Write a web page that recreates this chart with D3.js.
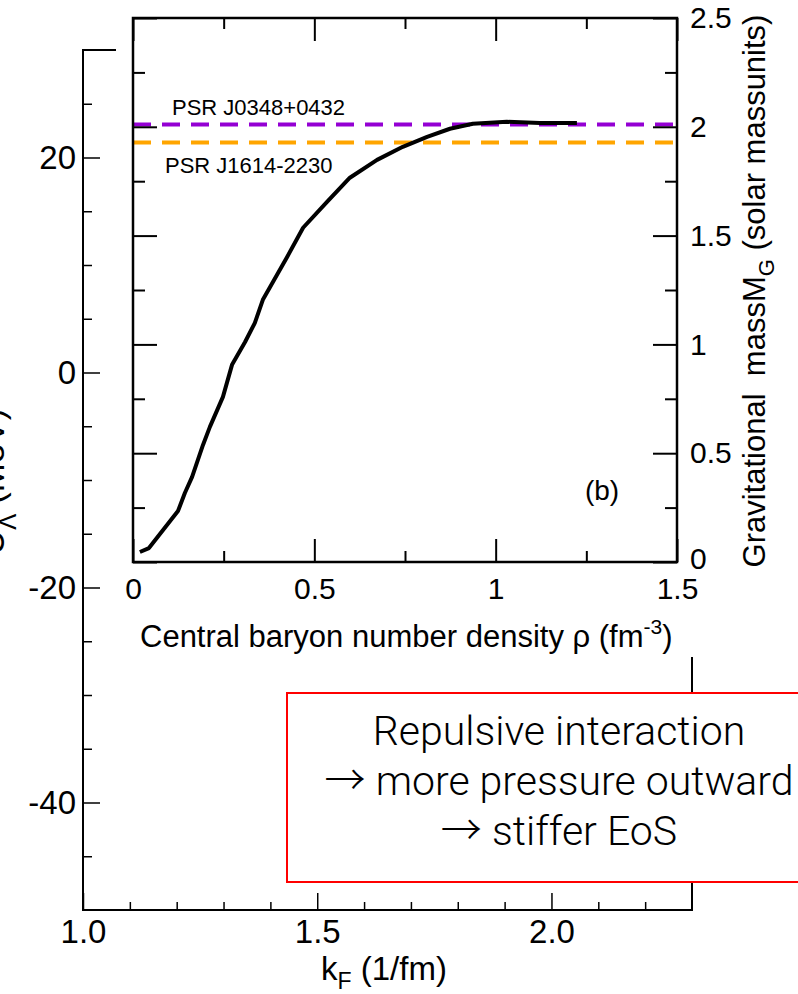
<!DOCTYPE html>
<html>
<head>
<meta charset="utf-8">
<script src="https://cdn.jsdelivr.net/npm/d3@7"></script>
<style>
body { margin: 0; background: #fff; }
svg text { font-family: "Liberation Sans", Arial, Helvetica, sans-serif; fill: #000; }
</style>
</head>
<body>
<svg width="798" height="994"></svg>
<script>
// outer panel: U_Lambda vs k_F (only the axes are visible)
const kfTicks = [1.0, 1.5, 2.0];
const kfMinor = [1.1, 1.2, 1.3, 1.4, 1.6, 1.7, 1.8, 1.9, 2.1, 2.2];
const uTicks = [-40, -20, 0, 20];
const uMinor = [-45, -35, -30, -25, -15, -10, -5, 5, 10, 15, 25];

// inset (b): gravitational mass vs central baryon density
const density = [0.019, 0.044, 0.124, 0.143, 0.163, 0.193, 0.212, 0.248, 0.273, 0.309, 0.336, 0.358,
                 0.378, 0.425, 0.469, 0.535, 0.598, 0.673, 0.744, 0.811, 0.874, 0.937, 1.031, 1.122, 1.224];
const mass = [0.046, 0.064, 0.234, 0.317, 0.391, 0.538, 0.621, 0.759, 0.906, 1.011, 1.099, 1.205,
              1.264, 1.402, 1.536, 1.655, 1.766, 1.848, 1.908, 1.954, 1.991, 2.014, 2.023, 2.018, 2.018];
const rhoTicks = [0, 0.5, 1, 1.5];
const rhoMinor = [0.25, 0.75, 1.25];
const massTicks = [0, 0.5, 1, 1.5, 2, 2.5];
const massMinor = [0.25, 0.75, 1.25, 1.75, 2.25];

const pulsars = ["PSR J0348+0432", "PSR J1614-2230"];
const pulsarMass = [2.01, 1.928];
const pulsarColor = ["#9400d3", "#ffa500"];

// [arrow, text] per line of the note
const boxLines = [["", "Repulsive interaction"], ["\u2192", "more pressure outward"], ["\u2192", "stiffer EoS"]];

const svg = d3.select('svg');

const kx = d3.scaleLinear().domain([1.0, 2.3]).range([83, 692]);
const uy = d3.scaleLinear().domain([-50, 30]).range([910, 50]);
const rx = d3.scaleLinear().domain([0, 1.5]).range([133, 677]);
const my = d3.scaleLinear().domain([0, 2.5]).range([562, 18]);

// draws ticks only (no labels, no domain line)
function ticks(axis, values, size, tx, ty, width) {
    const g = svg.append('g')
        .attr('transform', `translate(${tx},${ty})`)
        .call(axis.tickValues(values).tickSize(size).tickSizeOuter(0).tickFormat(''));
    g.select('.domain').remove();
    g.selectAll('line').attr('stroke', '#000').attr('stroke-width', width);
    return g;
}

// labels only
function labels(axis, values, fmt, pad, tx, ty, size) {
    const g = svg.append('g')
        .attr('transform', `translate(${tx},${ty})`)
        .call(axis.tickValues(values).tickSize(0).tickPadding(pad).tickFormat(fmt));
    g.select('.domain').remove();
    g.attr('font-family', null).attr('font-size', size);
    g.selectAll('text').attr('fill', '#000');
    return g;
}

// ---- outer panel ----
svg.append('rect')
    .attr('x', kx(1.0)).attr('y', uy(30))
    .attr('width', kx(2.3) - kx(1.0)).attr('height', uy(-50) - uy(30))
    .attr('fill', 'none').attr('stroke', '#000').attr('stroke-width', 2);

ticks(d3.axisRight(uy), uMinor, 9, kx(1.0), 0, 1.5);
ticks(d3.axisRight(uy), uTicks, 17, kx(1.0), 0, 1.5);
labels(d3.axisLeft(uy), uTicks, d => String(d), 7, kx(1.0), 0, 33);

ticks(d3.axisTop(kx), kfMinor, 8, 0, uy(-50), 1.5);
ticks(d3.axisTop(kx), kfTicks, 17, 0, uy(-50), 1.5);
labels(d3.axisBottom(kx), kfTicks, d => d.toFixed(1), 10, 0, uy(-50), 33);

svg.append('text')
    .attr('x', 321).attr('y', 980)
    .attr('font-size', 33)
    .call(t => {
        t.append('tspan').text('k');
        t.append('tspan').attr('font-size', 23).attr('dy', 9).text('F');
        t.append('tspan').attr('dy', -9).text(' (1/fm)');
    });

svg.append('text')
    .attr('transform', 'translate(4,555) rotate(-90)')
    .attr('font-size', 35)
    .call(t => {
        t.append('tspan').text('U');
        t.append('tspan').attr('font-size', 24).attr('dy', 12).text('\u039b');
        t.append('tspan').attr('dy', -12).text(' (MeV)');
    });

// ---- inset (b) ----
svg.append('rect')
    .attr('x', 116).attr('y', 0).attr('width', 682).attr('height', 657)
    .attr('fill', '#fff');

pulsars.forEach((name, i) => {
    svg.append('line')
        .attr('x1', rx(0)).attr('x2', rx(1.5))
        .attr('y1', my(pulsarMass[i])).attr('y2', my(pulsarMass[i]))
        .attr('stroke', pulsarColor[i]).attr('stroke-width', 4)
        .attr('stroke-dasharray', '18,11');
});

const line = d3.line().x(d => rx(d[0])).y(d => my(d[1]));
svg.append('path')
    .attr('d', line(d3.zip(density, mass)))
    .attr('fill', 'none').attr('stroke', '#000')
    .attr('stroke-width', 4).attr('stroke-linejoin', 'round');

svg.append('rect')
    .attr('x', rx(0)).attr('y', my(2.5))
    .attr('width', rx(1.5) - rx(0)).attr('height', my(0) - my(2.5))
    .attr('fill', 'none').attr('stroke', '#000').attr('stroke-width', 2.5);

ticks(d3.axisTop(rx), rhoMinor, 11, 0, my(0), 2);
ticks(d3.axisTop(rx), rhoTicks, 23, 0, my(0), 2);
ticks(d3.axisBottom(rx), rhoMinor, 11, 0, my(2.5), 2);
ticks(d3.axisBottom(rx), rhoTicks, 23, 0, my(2.5), 2);
ticks(d3.axisRight(my), massMinor, 12, rx(0), 0, 2);
ticks(d3.axisRight(my), massTicks, 24, rx(0), 0, 2);
ticks(d3.axisLeft(my), massMinor, 12, rx(1.5), 0, 2);
ticks(d3.axisLeft(my), massTicks, 24, rx(1.5), 0, 2);

labels(d3.axisBottom(rx), rhoTicks, d => String(d), 16, 0, my(0), 30);
labels(d3.axisRight(my), massTicks, d => String(d), 13, rx(1.5), 0, 30)
    .selectAll('.tick')
    .filter(d => d === 0)
    .select('text').attr('dy', '0.2em');

svg.append('text')
    .attr('x', 140).attr('y', 647)
    .attr('font-size', 31)
    .call(t => {
        t.append('tspan').text('Central baryon number density \u03c1 (fm');
        t.append('tspan').attr('font-size', 21).attr('dy', -13).text('-3');
        t.append('tspan').attr('dy', 13).text(')');
    });

svg.append('text')
    .attr('transform', 'translate(765,291) rotate(-90)')
    .attr('text-anchor', 'middle')
    .attr('font-size', 31)
    .style('white-space', 'pre')
    .call(t => {
        t.append('tspan').text('Gravitational  massM');
        t.append('tspan').attr('font-size', 22).attr('dy', 9).text('G');
        t.append('tspan').attr('dy', -9).text(' (solar massunits)');
    });

svg.append('text').attr('x', 172).attr('y', 115).attr('font-size', 22).text(pulsars[0]);
svg.append('text').attr('x', 165).attr('y', 173).attr('font-size', 22).text(pulsars[1]);

svg.append('text').attr('x', 602).attr('y', 500)
    .attr('text-anchor', 'middle').attr('font-size', 28).text('(b)');

// ---- annotation box ----
svg.append('rect')
    .attr('x', 287).attr('y', 693).attr('width', 560).attr('height', 189)
    .attr('fill', '#fff').attr('stroke', '#ff0000').attr('stroke-width', 2);

svg.selectAll('.note')
    .data(boxLines)
    .join('text')
    .attr('class', 'note')
    .attr('x', 559)
    .attr('y', (d, i) => 745 + i * 50)
    .attr('text-anchor', 'middle')
    .attr('font-size', 41)
    .style('white-space', 'pre')
    .each(function(d) {
        const t = d3.select(this);
        if (d[0]) {
            t.append('tspan')
                .style('font-family', '"Noto Sans CJK JP", "DejaVu Sans", sans-serif')
                .style('font-weight', 300)
                .text(d[0]);
            t.append('tspan')
                .style('font-family', 'Roboto, "Liberation Sans", sans-serif')
                .text(' ');
        }
        t.append('tspan')
            .style('font-family', 'Roboto, "Liberation Sans", sans-serif')
            .style('font-weight', 300)
            .text(d[1]);
    });
</script>
</body>
</html>
